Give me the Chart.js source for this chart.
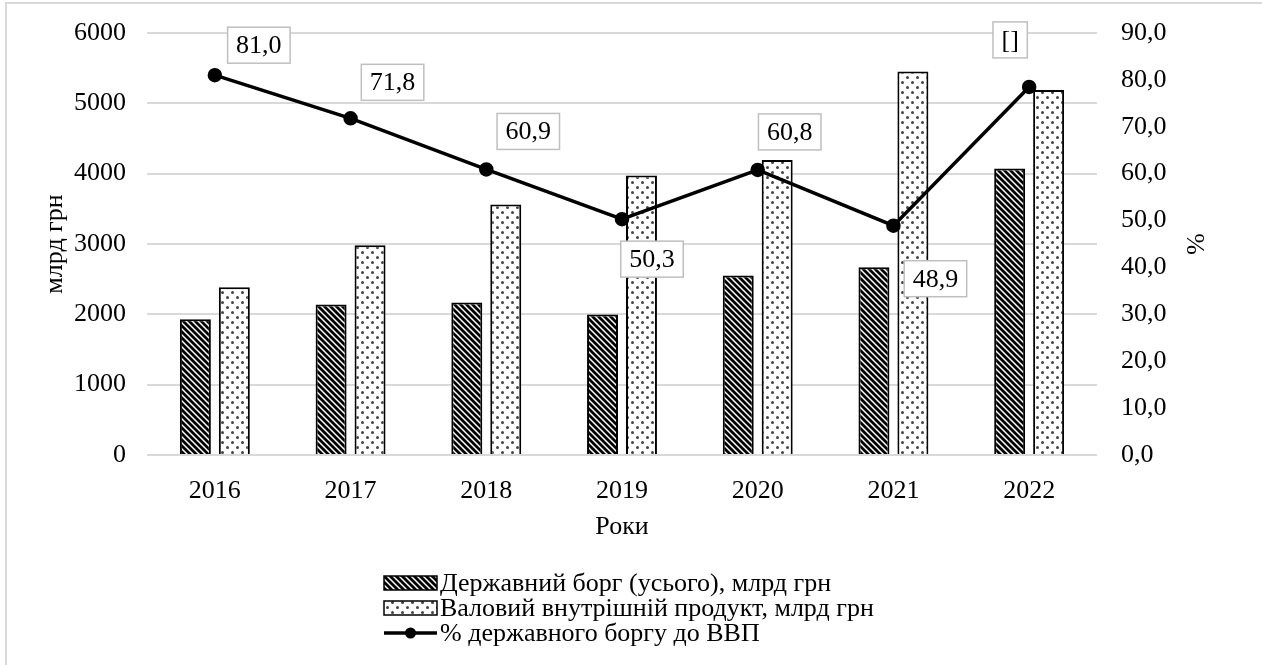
<!DOCTYPE html>
<html>
<head>
<meta charset="utf-8">
<script src="https://cdn.jsdelivr.net/npm/chart.js@4"></script>
<style>
  body { margin: 0; background: #fff; }
</style>
</head>
<body>
<canvas id="myChart" width="1262" height="665"></canvas>
<script>
const years = ['2016', '2017', '2018', '2019', '2020', '2021', '2022'];
const debt = [1930, 2141, 2168, 1998, 2551, 2671, 4074];
const gdp = [2385, 2984, 3561, 3975, 4194, 5451, 5191];
const debtPct = [81.0, 71.8, 60.9, 50.3, 60.8, 48.9, 78.5];
const pctLabels = ['81,0', '71,8', '60,9', '50,3', '60,8', '48,9', '[]'];

// where each data label box sits relative to its point
const labelShift = [[44, -30], [42, -36], [42, -38], [30, 40], [32, -38], [42, 53], [-19, -47]];

const FONT = 'Liberation Serif';

function stripes() {
    const c = document.createElement('canvas');
    c.width = 6; c.height = 6;
    const g = c.getContext('2d');
    g.fillStyle = '#fff';
    g.fillRect(0, 0, 6, 6);
    g.strokeStyle = '#000';
    g.lineWidth = 2.8;
    g.beginPath();
    g.moveTo(-3, -3); g.lineTo(9, 9);
    g.moveTo(-3, 3); g.lineTo(3, 9);
    g.moveTo(3, -3); g.lineTo(9, 3);
    g.stroke();
    return g.createPattern(c, 'repeat');
}

function dots() {
    const c = document.createElement('canvas');
    c.width = 10; c.height = 10;
    const g = c.getContext('2d');
    g.fillStyle = '#fff';
    g.fillRect(0, 0, 10, 10);
    g.fillStyle = '#444';
    [[2.5, 2.5], [7.5, 7.5]].forEach(p => {
        g.beginPath();
        g.arc(p[0], p[1], 1.5, 0, Math.PI * 2);
        g.fill();
    });
    return g.createPattern(c, 'repeat');
}

const stripeFill = stripes();
const dotFill = dots();

const frame = {
    id: 'frame',
    beforeDraw(chart) {
        const ctx = chart.ctx;
        ctx.save();
        ctx.strokeStyle = '#d9d9d9';
        ctx.lineWidth = 2;
        ctx.beginPath();
        ctx.moveTo(6, chart.height);
        ctx.lineTo(6, 3);
        ctx.lineTo(chart.width, 3);
        ctx.stroke();
        ctx.restore();
    }
};

const pctBoxes = {
    id: 'pctBoxes',
    afterDatasetsDraw(chart) {
        const ctx = chart.ctx;
        const meta = chart.getDatasetMeta(2);
        ctx.save();
        ctx.font = '26px "' + FONT + '"';
        ctx.textAlign = 'center';
        ctx.textBaseline = 'middle';
        meta.data.forEach((pt, i) => {
            const cx = pt.x + labelShift[i][0];
            const cy = pt.y + labelShift[i][1];
            const w = ctx.measureText(pctLabels[i]).width + 17;
            const h = 36;
            ctx.fillStyle = '#fff';
            ctx.fillRect(cx - w / 2, cy - h / 2, w, h);
            ctx.strokeStyle = '#bfbfbf';
            ctx.lineWidth = 1.5;
            ctx.strokeRect(cx - w / 2, cy - h / 2, w, h);
            ctx.fillStyle = '#000';
            ctx.fillText(pctLabels[i], cx, cy + 1);
        });
        ctx.restore();
    }
};

const stackedLegend = {
    id: 'stackedLegend',
    afterDraw(chart) {
        const ctx = chart.ctx;
        const x = 384, y0 = 583, row = 25;
        ctx.save();
        ctx.font = '26px "' + FONT + '"';
        ctx.textBaseline = 'middle';
        chart.data.datasets.forEach((ds, i) => {
            const y = y0 + i * row;
            if (ds.type === 'line') {
                ctx.strokeStyle = '#000';
                ctx.lineWidth = 3.5;
                ctx.beginPath();
                ctx.moveTo(x, y);
                ctx.lineTo(x + 53, y);
                ctx.stroke();
                ctx.fillStyle = '#000';
                ctx.beginPath();
                ctx.arc(x + 26.5, y, 5.5, 0, Math.PI * 2);
                ctx.fill();
            } else {
                ctx.fillStyle = ds.backgroundColor;
                ctx.fillRect(x, y - 7, 53, 14);
                ctx.strokeStyle = '#000';
                ctx.lineWidth = 1.5;
                ctx.strokeRect(x, y - 7, 53, 14);
            }
            ctx.fillStyle = '#000';
            ctx.fillText(ds.label, x + 56, y + 1);
        });
        ctx.restore();
    }
};

Chart.defaults.font.family = FONT;
Chart.defaults.font.size = 26;
Chart.defaults.color = '#000';

new Chart(document.getElementById('myChart'), {
    data: {
        labels: years,
        datasets: [{
            type: 'bar',
            label: 'Державний борг (усього), млрд грн',
            data: debt,
            yAxisID: 'y',
            backgroundColor: stripeFill,
            borderColor: '#000',
            borderWidth: 2,
            categoryPercentage: 0.574,
            barPercentage: 0.795,
            order: 1
        },
        {
            type: 'bar',
            label: 'Валовий внутрішній продукт, млрд грн',
            data: gdp,
            yAxisID: 'y',
            backgroundColor: dotFill,
            borderColor: '#000',
            borderWidth: 2,
            categoryPercentage: 0.574,
            barPercentage: 0.795,
            order: 1
        },
        {
            type: 'line',
            label: '% державного боргу до ВВП',
            data: debtPct,
            yAxisID: 'y1',
            borderColor: '#000',
            backgroundColor: '#000',
            borderWidth: 3.5,
            pointRadius: 5.5,
            pointBackgroundColor: '#000',
            tension: 0,
            order: 0
        }]
    },
    options: {
        responsive: false,
        animation: false,
        layout: { padding: { left: 40, right: 53, top: 33, bottom: 122 } },
        plugins: {
            legend: { display: false },
            tooltip: { enabled: false }
        },
        scales: {
            x: {
                grid: { display: false },
                border: { display: false },
                ticks: { padding: 13 },
                title: { display: true, text: 'Роки', padding: 0 },
                afterFit: s => { s.height = 88; }
            },
            y: {
                position: 'left',
                min: 0,
                max: 6000,
                ticks: { stepSize: 1000, padding: 0, callback: v => String(v) },
                grid: { color: '#d9d9d9', lineWidth: 2, drawTicks: true, tickLength: 21, tickColor: 'rgba(0,0,0,0)' },
                border: { display: false },
                title: { display: true, text: 'млрд грн', padding: 0 },
                afterFit: s => { s.width = 107; }
            },
            y1: {
                position: 'right',
                min: 0,
                max: 90,
                ticks: {
                    stepSize: 10,
                    padding: 0,
                    callback: v => v.toFixed(1).replace('.', ',')
                },
                grid: { color: 'rgba(0,0,0,0)', drawTicks: true, tickLength: 24, tickColor: 'rgba(0,0,0,0)' },
                border: { display: false },
                title: { display: true, text: '%', padding: 0 },
                afterFit: s => { s.width = 112; }
            }
        }
    },
    plugins: [frame, pctBoxes, stackedLegend]
});
</script>
</body>
</html>
